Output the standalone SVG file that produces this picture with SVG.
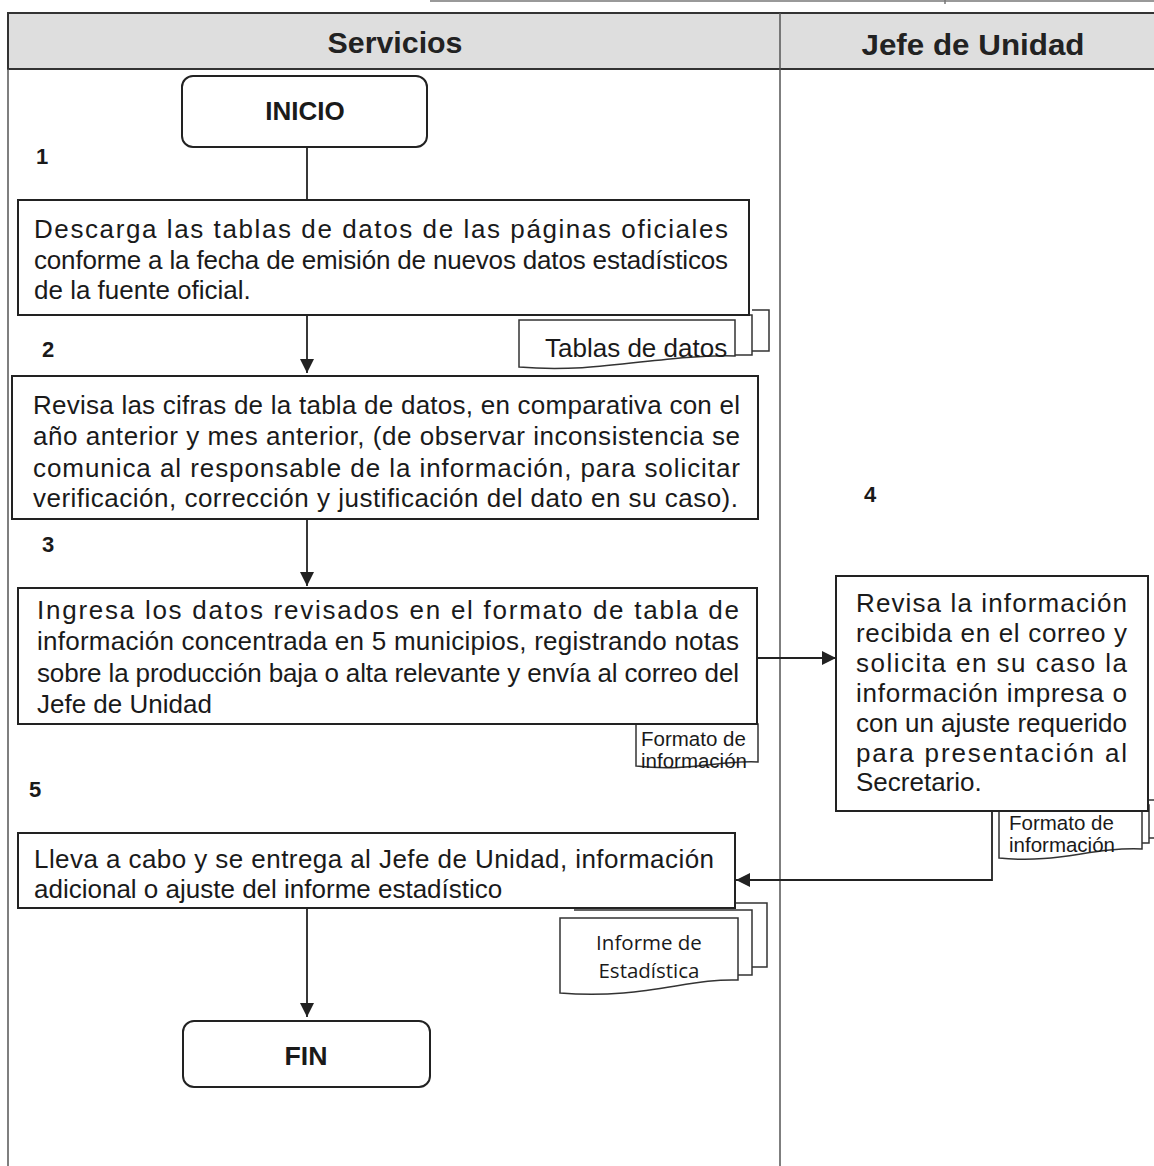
<svg xmlns="http://www.w3.org/2000/svg" width="1154" height="1166" viewBox="0 0 1154 1166">
<defs>
<style>
.lane{fill:none;stroke:#555;stroke-width:1.5}
.box{fill:#fff;stroke:#222;stroke-width:2}
.doc{fill:#fff;stroke:#333;stroke-width:1.5}
.con{fill:none;stroke:#222;stroke-width:1.8}
.t{font-family:"Liberation Sans",Arial,sans-serif;font-size:26px;fill:#1a1a1a}
.num{font-family:"Liberation Sans",Arial,sans-serif;font-size:22px;font-weight:bold;fill:#1a1a1a}
.hdr{font-family:"Liberation Sans",Arial,sans-serif;font-size:29px;font-weight:bold;fill:#222}
.dt{font-family:"Liberation Sans",Arial,sans-serif;font-size:20.5px;fill:#1a1a1a}
.ct{font-family:"Open Sans",sans-serif;font-size:20.5px;fill:#1a1a1a}
</style>
<marker id="ah" viewBox="0 0 14 14" refX="14" refY="7" markerWidth="14" markerHeight="14" markerUnits="userSpaceOnUse" orient="auto">
<path d="M0,0 L14,7 L0,14 Z" fill="#222"/>
</marker>
</defs>
<rect width="1154" height="1166" fill="#fff"/>
<g id="lanes">
<line x1="430" y1="1" x2="1154" y2="1" stroke="#777" stroke-width="1.5"/>
<line x1="945" y1="0" x2="945" y2="4" stroke="#777" stroke-width="1.5"/>
<rect x="8" y="13" width="1160" height="56" fill="#dedede" stroke="#333" stroke-width="2"/>
<line class="lane" x1="8" y1="69" x2="8" y2="1166"/>
<line class="lane" x1="780" y1="13" x2="780" y2="1166"/>
<text class="hdr" x="395" y="53" text-anchor="middle" textLength="135" lengthAdjust="spacingAndGlyphs">Servicios</text>
<text class="hdr" x="973" y="55" text-anchor="middle" textLength="223" lengthAdjust="spacingAndGlyphs">Jefe de Unidad</text>
</g>
<g id="connectors">
<line class="con" x1="307" y1="147" x2="307" y2="200"/>
<line class="con" x1="307" y1="315" x2="307" y2="373" marker-end="url(#ah)"/>
<line class="con" x1="307" y1="519" x2="307" y2="586" marker-end="url(#ah)"/>
<line class="con" x1="757" y1="658" x2="836" y2="658" marker-end="url(#ah)"/>
<polyline class="con" points="992,811 992,880 736,880" marker-end="url(#ah)"/>
<line class="con" x1="307" y1="908" x2="307" y2="1017" marker-end="url(#ah)"/>
</g>
<g id="inicio">
<rect class="box" x="182" y="76" width="245" height="71" rx="11"/>
<text class="t" x="305" y="120" text-anchor="middle" font-weight="bold" font-size="27">INICIO</text>
</g>
<g id="n1">
<text class="num" x="36" y="164">1</text>
</g>
<g id="doc-tablas">
<polyline class="doc" points="752,310 769,310 769,351 752,351"/>
<polyline class="doc" points="735,315 752,315 752,355 735,355"/>
<path class="doc" d="M519,320 H735 V356 C660,354 600,374 519,367 Z"/>
<text class="t" x="545" y="357" font-size="24.5">Tablas de datos</text>
</g>
<g id="step1">
<rect class="box" x="18" y="200" width="731" height="115"/>
<text class="t" x="34" y="238" textLength="694" lengthAdjust="spacing">Descarga las tablas de datos de las páginas oficiales</text>
<text class="t" x="34" y="269" textLength="694" lengthAdjust="spacing">conforme a la fecha de emisión de nuevos datos estadísticos</text>
<text class="t" x="34" y="299">de la fuente oficial.</text>
</g>
<g id="n2">
<text class="num" x="42" y="357">2</text>
</g>
<g id="step2">
<rect class="box" x="12" y="376" width="746" height="143"/>
<text class="t" x="33" y="414" textLength="707" lengthAdjust="spacing">Revisa las cifras de la tabla de datos, en comparativa con el</text>
<text class="t" x="33" y="445" textLength="707" lengthAdjust="spacing">año anterior y mes anterior, (de observar inconsistencia se</text>
<text class="t" x="33" y="477" textLength="707" lengthAdjust="spacing">comunica al responsable de la información, para solicitar</text>
<text class="t" x="33" y="507" textLength="705" lengthAdjust="spacing">verificación, corrección y justificación del dato en su caso).</text>
</g>
<g id="n3">
<text class="num" x="42" y="552">3</text>
</g>
<g id="doc-formato1">
<path class="doc" d="M636,724 H758 V762 C720,760 690,772 636,766 Z"/>
<text class="dt" x="641" y="746">Formato de</text>
<text class="dt" x="641" y="768">información</text>
</g>
<g id="step3">
<rect class="box" x="18" y="588" width="739" height="136"/>
<text class="t" x="37" y="619" textLength="702" lengthAdjust="spacing">Ingresa los datos revisados en el formato de tabla de</text>
<text class="t" x="37" y="650" textLength="702" lengthAdjust="spacing">información concentrada en 5 municipios, registrando notas</text>
<text class="t" x="37" y="682" textLength="702" lengthAdjust="spacing">sobre la producción baja o alta relevante y envía al correo del</text>
<text class="t" x="37" y="713">Jefe de Unidad</text>
</g>
<g id="n4">
<text class="num" x="864" y="502">4</text>
</g>
<g id="doc-formato2">
<polyline class="doc" points="1149,800 1156,800 1156,838 1149,838"/>
<polyline class="doc" points="1142,805 1149,805 1149,843 1142,843"/>
<path class="doc" d="M999,805 H1142 V849 C1090,847 1060,864 999,858 Z"/>
<text class="dt" x="1009" y="830">Formato de</text>
<text class="dt" x="1009" y="852">información</text>
</g>
<g id="step4">
<rect class="box" x="836" y="576" width="312" height="235"/>
<text class="t" x="856" y="612" textLength="271" lengthAdjust="spacing">Revisa la información</text>
<text class="t" x="856" y="642" textLength="271" lengthAdjust="spacing">recibida en el correo y</text>
<text class="t" x="856" y="672" textLength="271" lengthAdjust="spacing">solicita en su caso la</text>
<text class="t" x="856" y="702" textLength="271" lengthAdjust="spacing">información impresa o</text>
<text class="t" x="856" y="732" textLength="271" lengthAdjust="spacing">con un ajuste requerido</text>
<text class="t" x="856" y="762" textLength="271" lengthAdjust="spacing">para presentación al</text>
<text class="t" x="856" y="791">Secretario.</text>
</g>
<g id="n5">
<text class="num" x="29" y="797">5</text>
</g>
<g id="doc-informe">
<polyline class="doc" points="574,903 767,903 767,967 752,967"/>
<polyline class="doc" points="574,910 752,910 752,975 738,975"/>
<path class="doc" d="M560,918 H738 V980 C690,978 640,1000 560,993 Z"/>
<text class="ct" x="649" y="950" text-anchor="middle">Informe de</text>
<text class="ct" x="649" y="978" text-anchor="middle">Estadística</text>
</g>
<g id="step5">
<rect class="box" x="18" y="833" width="717" height="75"/>
<text class="t" x="34" y="868" textLength="680" lengthAdjust="spacing">Lleva a cabo y se entrega al Jefe de Unidad,  información</text>
<text class="t" x="34" y="898">adicional o ajuste del informe estadístico</text>
</g>
<g id="fin">
<rect class="box" x="183" y="1021" width="247" height="66" rx="11"/>
<text class="t" x="306" y="1065" text-anchor="middle" font-weight="bold" font-size="27" textLength="43" lengthAdjust="spacingAndGlyphs">FIN</text>
</g>
</svg>
